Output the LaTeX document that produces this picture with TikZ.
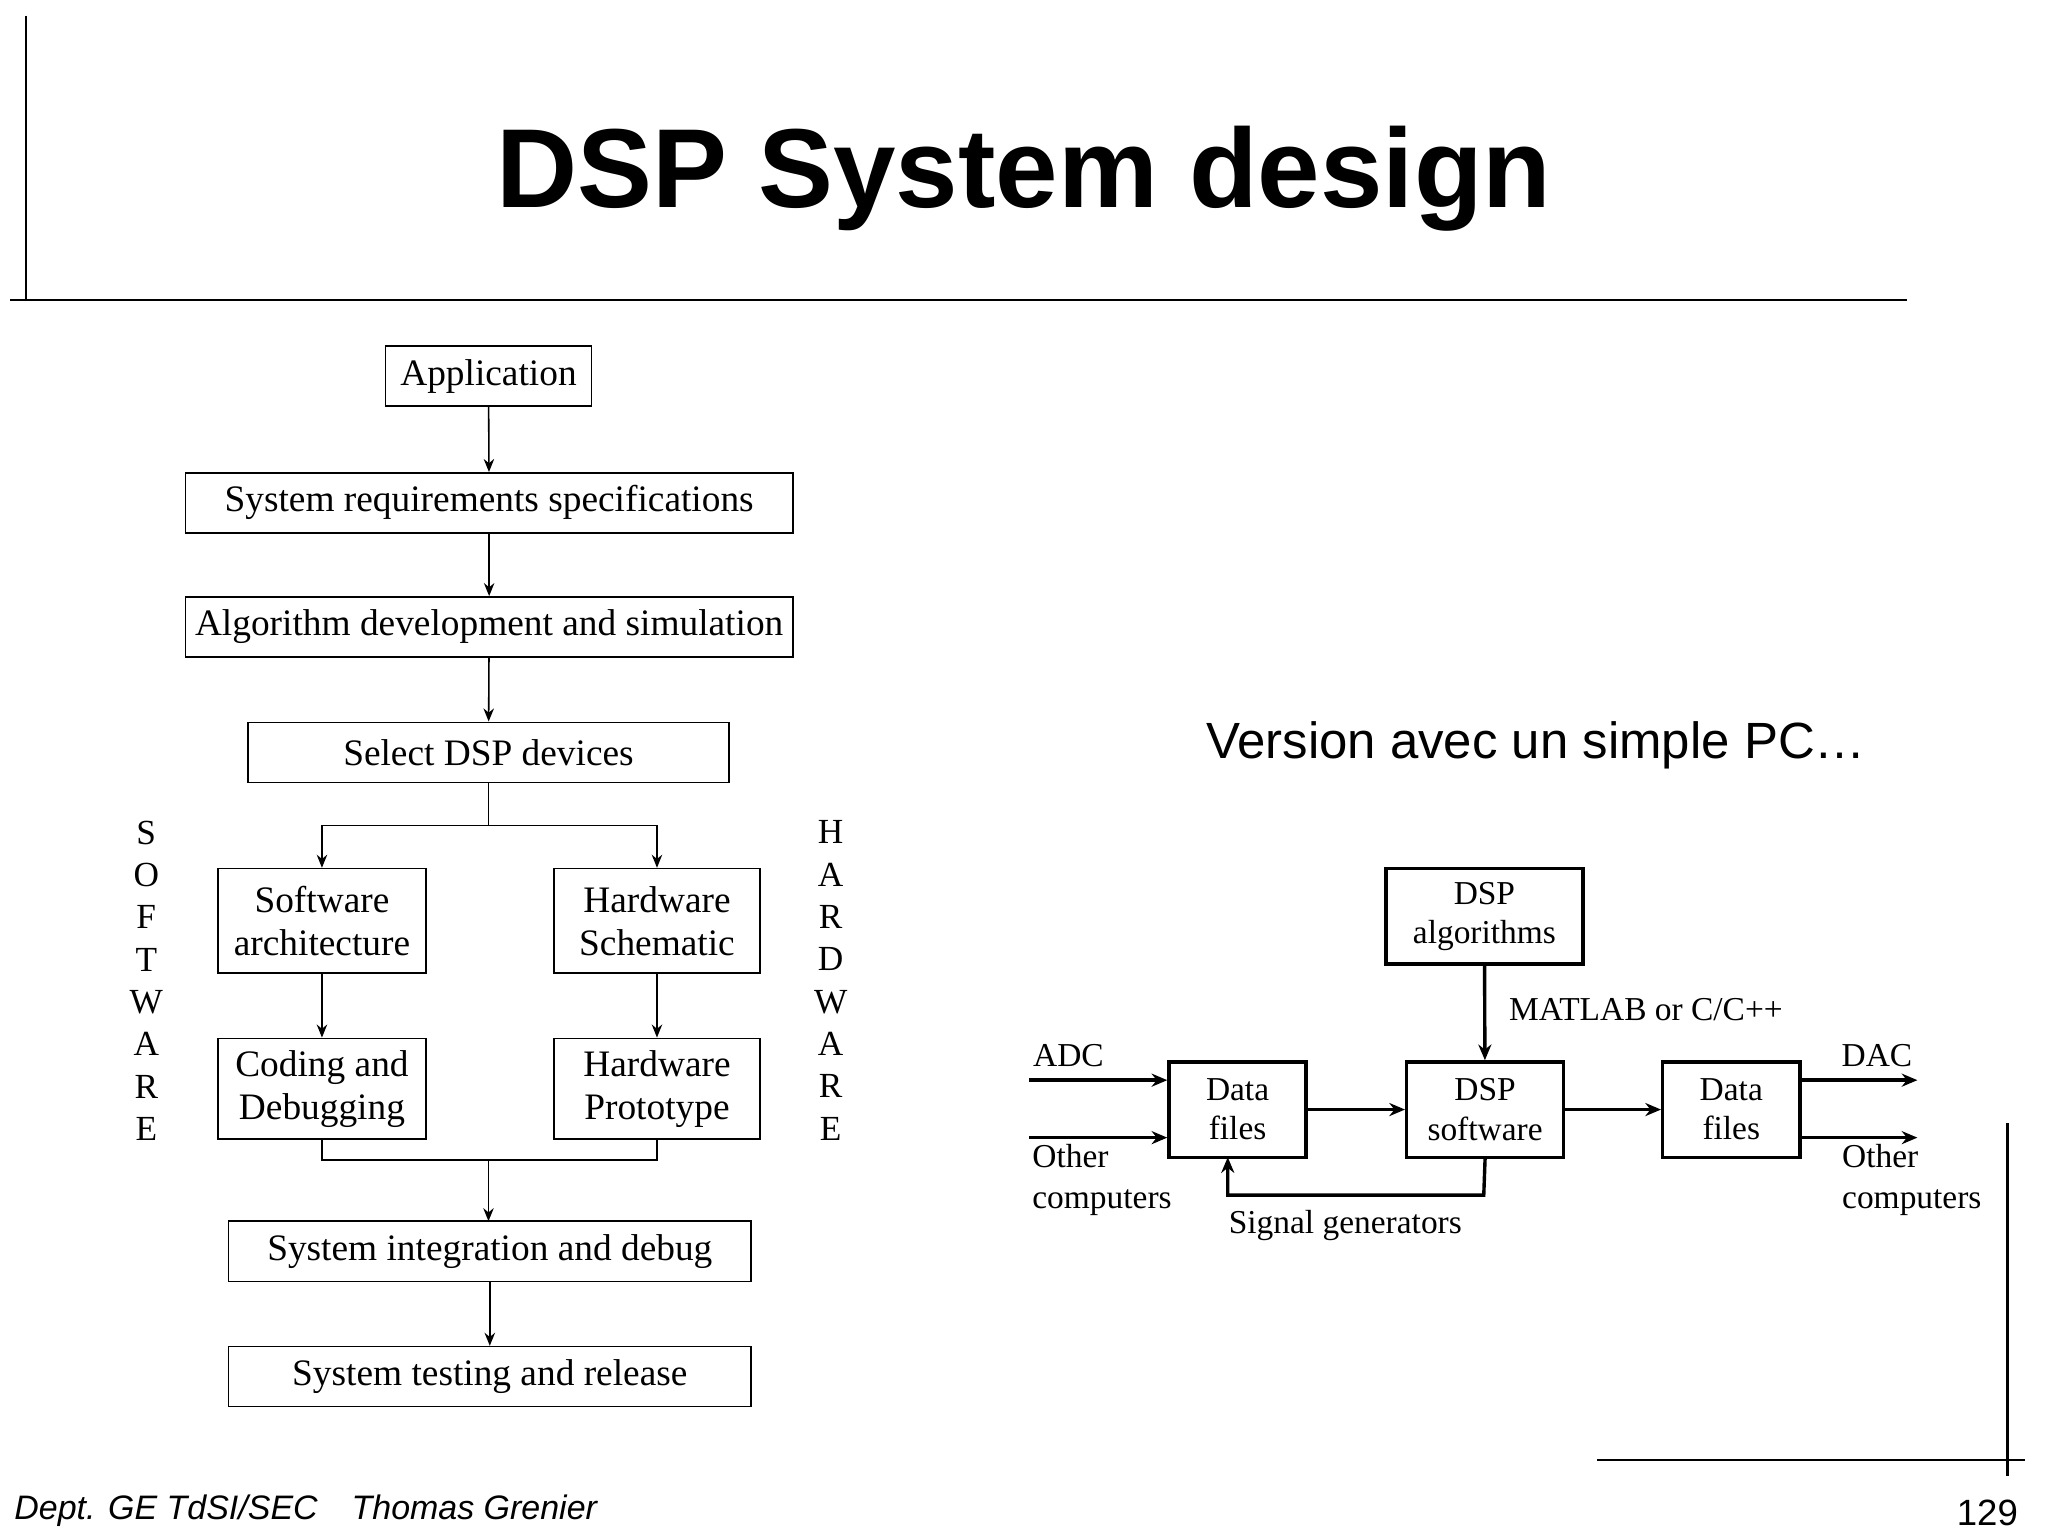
\documentclass[tikz,border=0pt]{standalone}
\usepackage{fontspec}
\setmainfont{Liberation Serif}
\newfontfamily\sansf{Liberation Sans}
\usetikzlibrary{arrows.meta}
\begin{document}
\begin{tikzpicture}[x=0.5pt,y=-0.5pt,
  box/.style={draw,line width=0.6pt,inner sep=0pt,font=\fontsize{14.3}{16.5}\selectfont,align=center},
  tbox/.style={draw,line width=1.3pt,inner sep=0pt,font=\fontsize{12.8}{15}\selectfont,align=center},
  arr/.style={-{Stealth[length=5pt,width=4pt]},line width=0.6pt},
  tarr/.style={-{Stealth[length=6pt,width=5pt]},line width=1.3pt},
  lbl/.style={font=\fontsize{12.8}{15.5}\selectfont,inner sep=0pt},
  vert/.style={font=\fontsize{13.5}{16.2}\selectfont,align=center,inner sep=0pt}]
\useasboundingbox (0,0) rectangle (1568,1176);
% frame lines
\draw[line width=0.8pt] (8,230) -- (1460,230);
\draw[line width=0.8pt] (20,12) -- (20,230);
\draw[line width=0.8pt] (1223,1118) -- (1550,1118);
\draw[line width=0.8pt] (1537,860) -- (1537,1130);
\node[font=\sansf\bfseries\fontsize{43}{47}\selectfont] (title) at (784,137) {DSP System design};
\node[font=\sansf\fontsize{19.5}{23}\selectfont] (ver) at (1176,571) {Version avec un simple PC…};
\node[font=\sansf\itshape\fontsize{13}{15}\selectfont,anchor=west] (foot) at (4,1157) {Dept. GE TdSI/SEC\quad Thomas Grenier};
\node[font=\sansf\fontsize{14}{16}\selectfont,anchor=east] (pg) at (1552,1158) {129};
% left flowchart
\node[box,minimum width=79pt,minimum height=23pt] (app) at (374,288) {Application};
\node[box,minimum width=232.5pt,minimum height=23pt] (req) at (374.5,385) {System requirements specifications};
\node[box,minimum width=232.5pt,minimum height=23pt] (alg) at (374.5,480) {Algorithm development and simulation};
\node[box,minimum width=184pt,minimum height=23pt] (sel) at (374,576) {Select DSP devices};
\node[box,minimum width=79.5pt,minimum height=40pt] (sw) at (246.5,705) {Software\\architecture};
\node[box,minimum width=79pt,minimum height=40pt] (hw) at (503,705) {Hardware\\Schematic};
\node[box,minimum width=79.5pt,minimum height=38.5pt] (cod) at (246.5,833.5) {Coding and\\Debugging};
\node[box,minimum width=79pt,minimum height=38.5pt] (hp) at (503,833.5) {Hardware\\Prototype};
\node[box,minimum width=200pt,minimum height=23pt] (int) at (375,958) {System integration and debug};
\node[box,minimum width=200pt,minimum height=23pt] (tst) at (375,1054) {System testing and release};
\draw[arr] (app) -- (req);
\draw[arr] (req) -- (alg);
\draw[arr] (alg) -- (sel);
\coordinate (sp) at (374,632);
\draw[line width=0.6pt] (sel.south) -- (sp);
\draw[arr] (sp) -| (sw.north);
\draw[arr] (sp) -| (hw.north);
\draw[arr] (sw) -- (cod);
\draw[arr] (hw) -- (hp);
\coordinate (mg) at (374,888);
\draw[line width=0.6pt] (cod.south) |- (mg) -| (hp.south);
\draw[arr] (mg) -- (374,935);
\draw[arr] (int) -- (tst);
\node[vert,anchor=north] (swv) at (112,628) {S\\O\\F\\T\\W\\A\\R\\E};
\node[vert,anchor=north] (hwv) at (636,628) {H\\A\\R\\D\\W\\A\\R\\E};
% right diagram
\node[tbox,minimum width=75.5pt,minimum height=36.5pt] (alg2) at (1136.5,701.5) {DSP\\algorithms};
\node[tbox,minimum width=60pt,minimum height=36.5pt] (dsp) at (1137,849.5) {DSP\\software};
\node[tbox,minimum width=52.5pt,minimum height=36.5pt] (df1) at (947.5,849.5) {Data\\files};
\node[tbox,minimum width=52.5pt,minimum height=36.5pt] (df2) at (1325.5,849.5) {Data\\files};
\coordinate (i1) at (788,827); \coordinate (i2) at (788,871);
\coordinate (o1) at (1468,827); \coordinate (o2) at (1468,871);
\draw[tarr] (i1) -- (df1.west |- i1);
\draw[tarr] (i2) -- (df1.west |- i2);
\draw[tarr] (df2.east |- o1) -- (o1);
\draw[tarr] (df2.east |- o2) -- (o2);
\draw[tarr] (df1) -- (dsp);
\draw[tarr] (dsp) -- (df2);
\draw[tarr] (alg2) -- (dsp);
\coordinate (fb) at (1136,915);
\draw[tarr] (dsp.south) -- (fb) -| (940,886);
\node[lbl] (adc) at (818,808) {ADC};
\node[lbl,anchor=north west,align=left] (oc1) at (790,876) {Other\\computers};
\node[lbl,anchor=west] (mat) at (1155,773) {MATLAB or C/C++};
\node[lbl] (sg) at (1030,938) {Signal generators};
\node[lbl] (dac) at (1437,808) {DAC};
\node[lbl,anchor=north west,align=left] (oc2) at (1410,876) {Other\\computers};
\end{tikzpicture}
\end{document}
